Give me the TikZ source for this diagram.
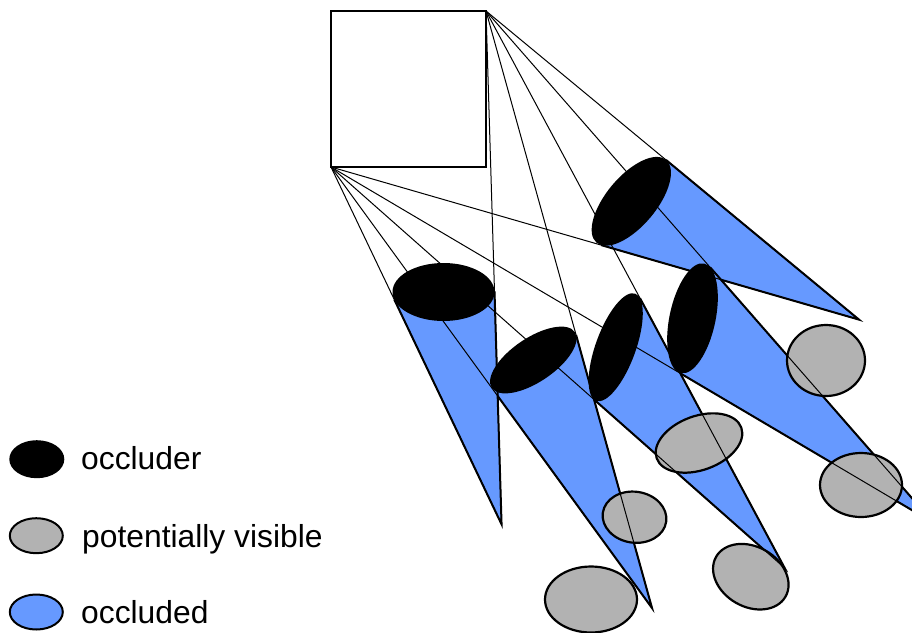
\documentclass[tikz,border=0pt]{standalone}
\usepackage{fontspec}
\setmainfont{Liberation Sans}
\usetikzlibrary{calc}
\definecolor{shadowblue}{RGB}{102,153,255}
\definecolor{pvgray}{RGB}{178,178,178}
\begin{document}
\begin{tikzpicture}[x=1pt,y=-1pt,
  thinray/.style={draw=black,line width=1pt},
  shadowedge/.style={draw=black,line width=2pt,line join=miter},
  umbra/.style={fill=shadowblue},
  occluder/.style={fill=black},
  pvis/.style={fill=pvgray,draw=black,line width=2.2pt},
  legendswatch/.style={draw=black,line width=2pt},
  lightbox/.style={draw=black,fill=white,line width=2.5pt,inner sep=0pt,outer sep=0pt,minimum width=155pt,minimum height=156pt},
  legendtext/.style={anchor=base west,inner sep=0pt,font=\fontsize{31.8pt}{38pt}\selectfont}]
\useasboundingbox (0,0) rectangle (912,632);
\clip (0,0) rectangle (912,632);

% light source
\node[lightbox] (light) at (408.5,89) {};
\coordinate (T) at (light.north east);
\coordinate (B) at (light.south west);

% occluders: centre, tangent points
\coordinate (c1) at (443.5,292);   \coordinate (pb1) at (394.3,299.6); \coordinate (pt1) at (494.5,291.5);
\coordinate (c2) at (533.3,360);   \coordinate (pb2) at (492.0,388.2); \coordinate (pt2) at (576.1,335.0);
\coordinate (c3) at (615.7,347.2); \coordinate (pb3) at (593.8,399.3); \coordinate (pt3) at (640.0,298.2);
\coordinate (c4) at (692.5,318.3); \coordinate (pb4) at (677.9,371.9); \coordinate (pt4) at (710.2,267.4);
\coordinate (c5) at (631.3,201.3); \coordinate (pb5) at (601.2,245.1); \coordinate (pt5) at (665.95,159.9);
\coordinate (tip1) at (intersection of B--pb1 and T--pt1);
\coordinate (tip2) at (intersection of B--pb2 and T--pt2);
\coordinate (tip3) at (intersection of B--pb3 and T--pt3);
\coordinate (tip4) at (intersection of B--pb4 and T--pt4);
\coordinate (tip5) at (intersection of B--pb5 and T--pt5);

% occluded regions
\foreach \i in {5,4,3,2,1}{
  \fill[umbra] (pb\i) -- (tip\i) -- (pt\i) -- (c\i) -- cycle;
  \draw[shadowedge] (pb\i) -- (tip\i) -- (pt\i);
}

% potentially visible objects
\draw[pvis] (826,360.5) ellipse [x radius=39pt, y radius=35.5pt];
\draw[pvis, rotate around={20:(699,443)}] (699,443) ellipse [x radius=45pt, y radius=27pt];
\draw[pvis] (861,485) ellipse [x radius=41pt, y radius=32pt];
\draw[pvis, rotate around={-8:(634.5,517.2)}] (634.5,517.2) ellipse [x radius=32pt, y radius=25.5pt];
\draw[pvis] (591,599.5) ellipse [x radius=46pt, y radius=33pt];
\draw[pvis, rotate around={-30:(750.8,576.7)}] (750.8,576.7) ellipse [x radius=40pt, y radius=30pt];

% rays from the two corners of the light
\foreach \i in {1,...,5}{
  \draw[thinray] (B) -- (tip\i);
  \draw[thinray] (T) -- (tip\i);
}

% occluders
\fill[occluder] (c1) ellipse [x radius=51pt, y radius=29pt];
\fill[occluder, rotate around={34:(c2)}] (c2) ellipse [x radius=50pt, y radius=22pt];
\fill[occluder, rotate around={70:(c3)}] (c3) ellipse [x radius=57pt, y radius=20pt];
\fill[occluder, rotate around={78:(c4)}] (c4) ellipse [x radius=56pt, y radius=23pt];
\fill[occluder, rotate around={50:(c5)}] (c5) ellipse [x radius=54pt, y radius=25pt];

% light box on top
\node[lightbox] at (light) {};

% legend
\fill[occluder] (36.8,459.2) ellipse [x radius=27.5pt, y radius=19pt];
\draw[legendswatch, fill=pvgray] (36.3,535.7) ellipse [x radius=26.5pt, y radius=17.5pt];
\draw[legendswatch, fill=shadowblue] (36.3,612) ellipse [x radius=26.5pt, y radius=17.5pt];
\node[legendtext] (lt1) at (81,469.5) {occluder};
\node[legendtext] (lt2) at (82,547.5) {potentially visible};
\node[legendtext] (lt3) at (81,623) {occluded};
\end{tikzpicture}
\end{document}
